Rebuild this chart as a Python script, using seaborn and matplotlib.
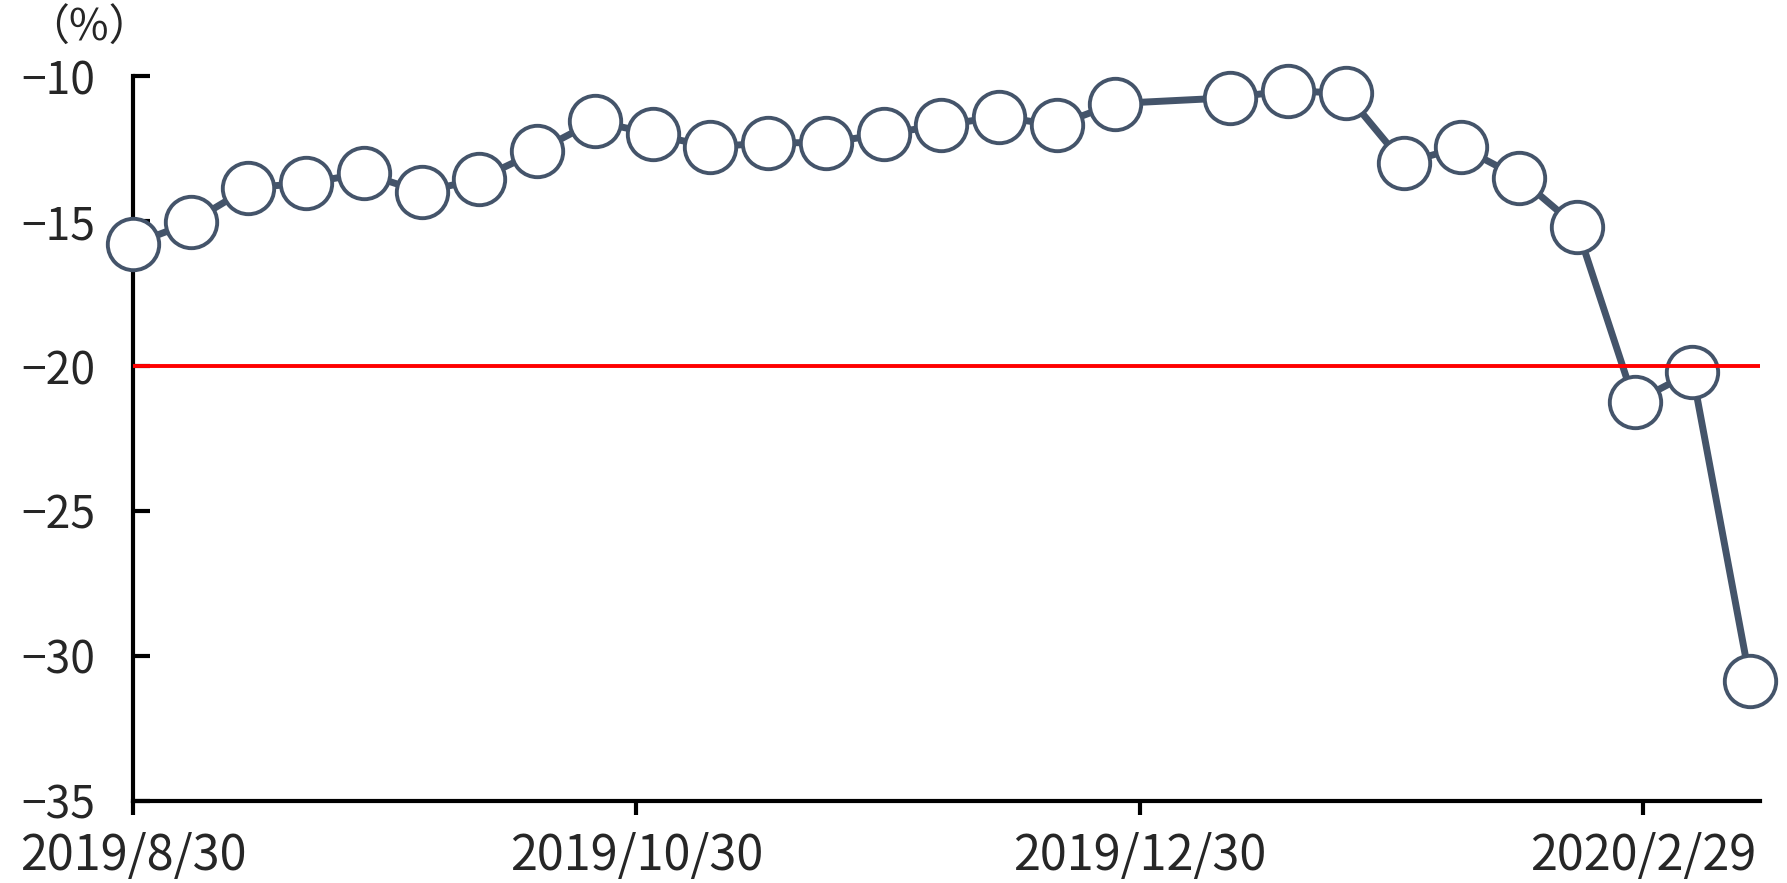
import numpy as np
import pandas as pd
import seaborn as sns
import matplotlib.pyplot as plt

sns.set_theme(style="white")
plt.rcParams['font.family'] = ['Noto Sans CJK JP', 'DejaVu Sans']

# weekly values (%), 2020/1/3 missing
dates = ["2019-08-30", "2019-09-06", "2019-09-13", "2019-09-20", "2019-09-27",
         "2019-10-04", "2019-10-11", "2019-10-18", "2019-10-25", "2019-11-01",
         "2019-11-08", "2019-11-15", "2019-11-22", "2019-11-29", "2019-12-06",
         "2019-12-13", "2019-12-20", "2019-12-27", "2020-01-10", "2020-01-17",
         "2020-01-24", "2020-01-31", "2020-02-07", "2020-02-14", "2020-02-21",
         "2020-02-28", "2020-03-06", "2020-03-13"]
values = [-15.8, -15.05, -13.85, -13.7, -13.35,
          -14.0, -13.55, -12.6, -11.55, -12.0,
          -12.45, -12.3, -12.3, -12.0, -11.7,
          -11.4, -11.7, -10.95, -10.75, -10.5,
          -10.6, -13.0, -12.45, -13.5, -15.2,
          -21.25, -20.2, -30.85]
threshold = -20
tick_dates = ["2019-08-30", "2019-10-30", "2019-12-30", "2020-02-29"]
tick_labels = ["2019/8/30", "2019/10/30", "2019/12/30", "2020/2/29"]
y_ticks = [-10, -15, -20, -25, -30, -35]

df = pd.DataFrame({"date": pd.to_datetime(dates), "value": values})

fig = plt.figure(figsize=(17.87, 8.83), dpi=100)
ax = fig.add_axes([0.0744, 0.0929, 0.9105, 0.821])

sns.lineplot(data=df, x="date", y="value", ax=ax, color="#44546A",
             linewidth=5, marker="o", markersize=37,
             markerfacecolor="white", markeredgecolor="#44546A",
             markeredgewidth=2.8, zorder=3, clip_on=False)
ax.axhline(threshold, color="#FF0000", linewidth=2.8, zorder=4)

ax.set_ylim(-35, -10)
ax.set_xlim(pd.Timestamp("2019-08-30"), pd.Timestamp("2020-03-14 05:00"))
ax.set_yticks(y_ticks)
ax.set_xticks(pd.to_datetime(tick_dates))
ax.set_xticklabels(tick_labels)

for s in ["top", "right"]:
    ax.spines[s].set_visible(False)
for s in ["left", "bottom"]:
    ax.spines[s].set_color("black")
    ax.spines[s].set_linewidth(3)

ax.tick_params(axis="y", direction="in", length=12, width=3, color="black",
               labelsize=32, pad=27, left=True)
ax.tick_params(axis="x", direction="out", length=10, width=3, color="black",
               labelsize=35, pad=12, bottom=True)
ax.set_xlabel("")
ax.set_ylabel("")

fig.text(0.050, 0.967, "（%）", fontsize=31, ha="center", va="center")

plt.savefig("out.png")
